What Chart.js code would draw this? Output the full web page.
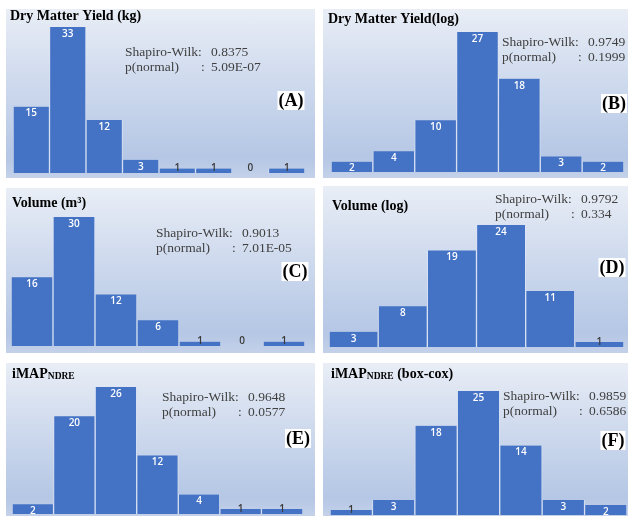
<!DOCTYPE html>
<html>
<head>
<meta charset="utf-8">
<script src="https://cdn.jsdelivr.net/npm/chart.js@4.4.1/dist/chart.umd.min.js"></script>
<style>
    body { margin: 0; background: #fff; width: 629px; height: 516px; position: relative; overflow: hidden; }
    .panel { position: absolute; background: linear-gradient(#e9eef6 0%, #d0dbee 40%, #b5c7e5 88%, #c4d1e9 100%); }
    .panel canvas { display: block; }
</style>
</head>
<body>
<div class="panel" style="left:6px;top:9px;width:309px;height:169px"><canvas id="chartA"></canvas></div>
<div class="panel" style="left:323px;top:9px;width:305px;height:169px"><canvas id="chartB"></canvas></div>
<div class="panel" style="left:6px;top:188px;width:309px;height:165px"><canvas id="chartC"></canvas></div>
<div class="panel" style="left:323px;top:186px;width:305px;height:167px"><canvas id="chartD"></canvas></div>
<div class="panel" style="left:6px;top:363px;width:309px;height:153px"><canvas id="chartE"></canvas></div>
<div class="panel" style="left:323px;top:363px;width:305px;height:153px"><canvas id="chartF"></canvas></div>

<script>
// Histogram counts per panel
const countsA = [15, 33, 12, 3, 1, 1, 0, 1];   // Dry Matter Yield (kg)
const countsB = [2, 4, 10, 27, 18, 3, 2];      // Dry Matter Yield (log)
const countsC = [16, 30, 12, 6, 1, 0, 1];      // Volume (m3)
const countsD = [3, 8, 19, 24, 11, 1];         // Volume (log)
const countsE = [2, 20, 26, 12, 4, 1, 1];      // iMAP NDRE
const countsF = [1, 3, 18, 25, 14, 3, 2];      // iMAP NDRE (box-cox)

const titles = ['Dry Matter Yield (kg)', 'Dry Matter Yield(log)', 'Volume (m³)', 'Volume (log)', 'iMAP_NDRE', 'iMAP_NDRE (box-cox)'];
const shapiroW = ['0.8375', '0.9749', '0.9013', '0.9792', '0.9648', '0.9859'];
const pNormal = ['5.09E-07', '0.1999', '7.01E-05', '0.334', '0.0577', '0.6586'];
const tags = ['(A)', '(B)', '(C)', '(D)', '(E)', '(F)'];

// Layout for each panel (page coords): panel origin, chart padding, text anchors
const layouts = [
    { id: 'chartA', ox: 6,   oy: 9,   pad: { left: 7, right: 10, top: 18, bottom: 5 }, title: [10, 15],  stats: [125, 52], tag: [291, 100] },
    { id: 'chartB', ox: 323, oy: 9,   pad: { left: 8, right: 4,  top: 23, bottom: 6 }, title: [328, 18], stats: [502, 42], tag: [614, 103] },
    { id: 'chartC', ox: 6,   oy: 188, pad: { left: 5, right: 10, top: 29, bottom: 7 }, title: [12, 202], stats: [156, 233], tag: [295, 271] },
    { id: 'chartD', ox: 323, oy: 186, pad: { left: 6, right: 4,  top: 39, bottom: 6 }, title: [332, 205], stats: [495, 199], tag: [612, 267] },
    { id: 'chartE', ox: 6,   oy: 363, pad: { left: 6, right: 12, top: 24, bottom: 2 }, title: [12, 373], stats: [162, 397], tag: [298, 438] },
    { id: 'chartF', ox: 323, oy: 363, pad: { left: 7, right: 1,  top: 28, bottom: 1 }, title: [331, 373], stats: [503, 396], tag: [613, 440] }
];

const allCounts = [countsA, countsB, countsC, countsD, countsE, countsF];

// Draws bar value labels, panel title, Shapiro-Wilk text and the letter tag
const panelText = {
    id: 'panelText',
    afterDraw(chart, args, opts) {
        const ctx = chart.ctx;
        const lay = opts.layout;
        const meta = chart.getDatasetMeta(0);
        const values = chart.data.datasets[0].data;

        ctx.save();
        ctx.textAlign = 'center';
        ctx.textBaseline = 'middle';
        ctx.font = '600 10px "Open Sans"';
        meta.data.forEach((bar, i) => {
            const v = values[i];
            if (v >= 2) {
                ctx.fillStyle = '#ffffff';
                ctx.fillText(String(v), bar.x, bar.y + 7);
            } else {
                ctx.fillStyle = '#3a3a3a';
                ctx.fillText(String(v), bar.x, bar.base - 5);
            }
        });

        // title (with optional subscript after "_")
        const tx = lay.title[0] - lay.ox;
        const ty = lay.title[1] - lay.oy + 5;
        ctx.textAlign = 'left';
        ctx.textBaseline = 'alphabetic';
        ctx.fillStyle = '#000';
        const m = opts.title.match(/^(.*?)_(\S+)(.*)$/);
        if (m) {
            ctx.font = 'bold 14px "Liberation Serif"';
            ctx.fillText(m[1], tx, ty);
            let x = tx + ctx.measureText(m[1]).width;
            ctx.font = 'bold 9.5px "Liberation Serif"';
            ctx.fillText(m[2], x, ty + 1);
            x += ctx.measureText(m[2]).width;
            ctx.font = 'bold 14px "Liberation Serif"';
            ctx.fillText(m[3], x, ty);
        } else {
            ctx.font = 'bold 14px "Liberation Serif"';
            ctx.fillText(opts.title, tx, ty);
        }

        // Shapiro-Wilk statistics
        const sx = lay.stats[0] - lay.ox;
        const sy = lay.stats[1] - lay.oy;
        ctx.font = '13.5px "Liberation Serif"';
        ctx.fillStyle = '#404040';
        ctx.textBaseline = 'middle';
        ctx.fillText('Shapiro-Wilk:', sx, sy);
        ctx.fillText(opts.w, sx + 86, sy);
        ctx.fillText('p(normal)', sx, sy + 15);
        ctx.fillText(':', sx + 76, sy + 15);
        ctx.fillText(opts.p, sx + 86, sy + 15);

        // letter tag in white box
        const gx = lay.tag[0] - lay.ox;
        const gy = lay.tag[1] - lay.oy;
        ctx.font = 'bold 18px "Liberation Serif"';
        const w = ctx.measureText(opts.tag).width;
        ctx.fillStyle = '#ffffff';
        ctx.fillRect(gx - w / 2 - 1, gy - 9, w + 2, 19);
        ctx.fillStyle = '#000';
        ctx.textAlign = 'center';
        ctx.fillText(opts.tag, gx, gy + 1);
        ctx.restore();
    }
};

layouts.forEach((lay, k) => {
    const counts = allCounts[k];
    const ctx = document.getElementById(lay.id).getContext('2d');
    new Chart(ctx, {
        type: 'bar',
        data: {
            labels: counts.map((_, i) => 'Bin ' + (i + 1)),
            datasets: [{
                data: counts,
                backgroundColor: '#4472c4',
                borderColor: 'rgba(220, 230, 246, 0.75)',
                borderWidth: { left: 1, right: 1, top: 0, bottom: 0 },
                barPercentage: 1,
                categoryPercentage: 1
            }]
        },
        options: {
            responsive: true,
            maintainAspectRatio: false,
            animation: false,
            layout: { padding: lay.pad },
            scales: {
                x: { display: false },
                y: { display: false, min: 0, max: Math.max(...counts) }
            },
            plugins: {
                legend: { display: false },
                tooltip: { enabled: false },
                panelText: { layout: lay, title: titles[k], w: shapiroW[k], p: pNormal[k], tag: tags[k] }
            }
        },
        plugins: [panelText]
    });
});
</script>
</body>
</html>
